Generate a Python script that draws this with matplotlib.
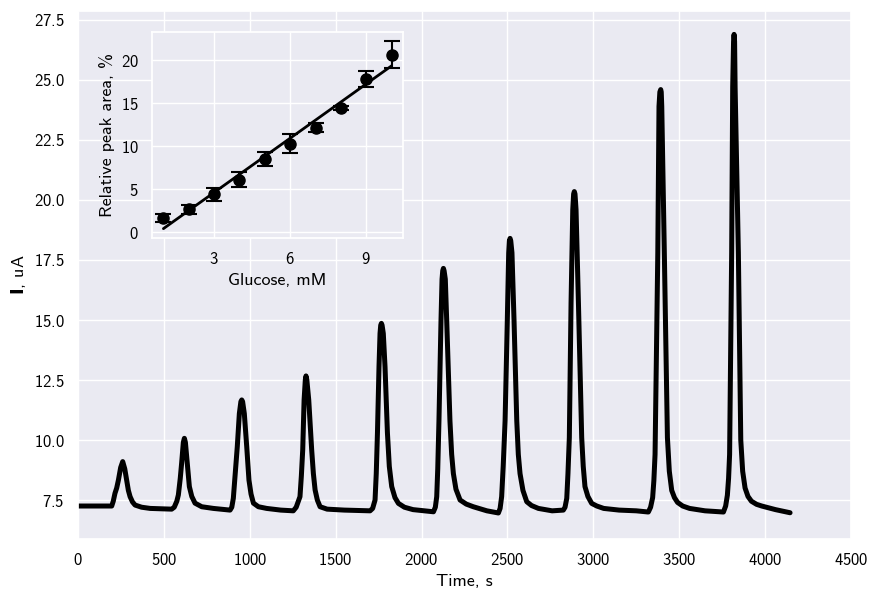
import numpy as np
import matplotlib
matplotlib.use("Agg")
import matplotlib.pyplot as plt
import seaborn as sns

# Amperometric trace (time in s, current in uA)
time_s = [0, 100, 196,
          205, 215, 225, 235, 248, 260, 272, 283, 293, 303, 317, 332, 370, 420, 545,
          560, 575, 584, 595, 603, 613, 619, 625, 636, 648, 662, 681, 720, 788, 885,
          895, 904, 915, 927, 939, 948, 953, 958, 968, 982, 995, 1007, 1021, 1050, 1098, 1180, 1253,
          1270, 1292, 1300, 1308, 1316, 1323, 1327, 1332, 1343, 1360, 1370, 1380, 1393, 1409, 1450, 1550, 1700,
          1715, 1729, 1736, 1743, 1752, 1758, 1762, 1766, 1770, 1777, 1787, 1801, 1812, 1826, 1845, 1865, 1900, 1950, 2069,
          2080, 2088, 2094, 2101, 2113, 2119, 2123, 2127, 2131, 2138, 2146, 2165, 2175, 2185, 2200, 2224, 2260, 2301, 2380, 2447,
          2457, 2466, 2475, 2486, 2499, 2507, 2511, 2515, 2519, 2526, 2538, 2554, 2563, 2573, 2590, 2612, 2640, 2680, 2760, 2825,
          2835, 2845, 2852, 2860, 2870, 2880, 2885, 2889, 2893, 2899, 2913, 2932, 2941, 2951, 2968, 2990, 3020, 3060, 3150, 3250, 3320,
          3333, 3345, 3352, 3359, 3375, 3382, 3387, 3392, 3395, 3398, 3413, 3431, 3442, 3456, 3472, 3490, 3520, 3560, 3650, 3757,
          3770, 3780, 3787, 3793, 3805, 3811, 3816, 3819, 3822, 3825, 3844, 3858, 3869, 3883, 3900, 3920, 3950, 3980, 4060, 4145]
current_uA = [7.25, 7.25, 7.25,
              7.45, 7.78, 8.0, 8.33, 8.85, 9.1, 8.8, 8.33, 7.9, 7.64, 7.42, 7.29, 7.2, 7.15, 7.12,
              7.2, 7.45, 7.71, 8.4, 9.03, 9.9, 10.07, 9.9, 9.03, 8.06, 7.65, 7.37, 7.22, 7.15, 7.08,
              7.2, 7.57, 8.6, 9.72, 11.1, 11.6, 11.67, 11.6, 11.1, 9.72, 8.33, 7.75, 7.37, 7.22, 7.15, 7.08, 7.05,
              7.2, 7.64, 8.5, 9.6, 11.67, 12.5, 12.67, 12.5, 11.67, 9.6, 8.6, 7.92, 7.5, 7.22, 7.12, 7.08, 7.05,
              7.15, 7.5, 8.6, 10.3, 13.06, 14.44, 14.78, 14.86, 14.78, 14.44, 13.06, 10.3, 8.9, 8.06, 7.6, 7.36, 7.2, 7.1, 7.01,
              7.2, 7.64, 8.8, 10.8, 15.0, 16.7, 17.05, 17.15, 17.05, 16.7, 15.0, 10.8, 9.4, 8.6, 7.95, 7.5, 7.33, 7.22, 7.05, 6.96,
              7.15, 7.64, 8.9, 10.8, 15.0, 17.8, 18.3, 18.4, 18.3, 17.8, 15.0, 10.8, 9.4, 8.6, 7.9, 7.43, 7.27, 7.15, 7.05, 7.08,
              7.2, 7.57, 8.6, 10.1, 15.7, 19.6, 20.25, 20.35, 20.25, 19.6, 15.7, 10.1, 8.9, 8.06, 7.65, 7.36, 7.25, 7.15, 7.08, 7.05, 7.0,
              7.2, 7.6, 8.3, 9.4, 17.8, 23.9, 24.5, 24.6, 24.5, 23.9, 17.8, 10.1, 8.7, 7.9, 7.6, 7.4, 7.25, 7.15, 7.05, 7.0,
              7.25, 7.7, 8.4, 9.4, 17.8, 24.7, 26.6, 26.9, 26.6, 24.7, 17.8, 10.0, 8.7, 8.0, 7.65, 7.45, 7.32, 7.25, 7.1, 6.97]

# Calibration inset
glucose_mM = [1, 2, 3, 4, 5, 6, 7, 8, 9, 10]
peak_area = [1.67, 2.64, 4.39, 6.10, 8.54, 10.29, 12.16, 14.45, 17.86, 20.66]
peak_err = [0.45, 0.5, 0.75, 0.85, 0.8, 1.1, 0.5, 0.25, 0.95, 1.55]

sns.set_theme(style="darkgrid", context="notebook")
plt.rcParams["font.family"] = ["cmss10", "DejaVu Sans"]
plt.rcParams["axes.formatter.use_mathtext"] = True
plt.rcParams["text.color"] = "black"
plt.rcParams["axes.labelcolor"] = "black"
plt.rcParams["xtick.color"] = "black"
plt.rcParams["ytick.color"] = "black"

fig = plt.figure(figsize=(8.71, 5.90), dpi=100)
ax = fig.add_axes([0.0896, 0.0864, 0.8875, 0.8950])
ax.plot(time_s, current_uA, color="black", lw=3.6,
        solid_joinstyle="round", solid_capstyle="round")
ax.set_xlim(0, 4500)
ax.set_ylim(5.875, 27.875)
ax.set_xticks(np.arange(0, 4501, 500))
ax.set_yticks(np.arange(7.5, 27.6, 2.5))
ax.set_xlabel("Time, s", fontsize=13)
ax.set_ylabel(r"$\mathbf{I}$, uA", fontsize=13)
ax.tick_params(labelsize=12)

# Inset
ins = fig.add_axes([0.1745, 0.5966, 0.2882, 0.3492])
x = np.array(glucose_mM)
y = np.array(peak_area)
k, b = np.polyfit(x, y, 1)
ins.plot(x, k * x + b, color="black", lw=2)
ins.errorbar(x, y, yerr=peak_err, fmt="o", color="black", ms=8,
             capsize=6, elinewidth=1.5, capthick=1.5)
ins.set_xticks([3, 6, 9])
ins.set_yticks([0, 5, 10, 15, 20])
ins.set_xlabel("Glucose, mM", fontsize=13)
ins.set_ylabel("Relative peak area, %", fontsize=13)
ins.tick_params(labelsize=12)

fig.savefig("out.png", dpi=100)
